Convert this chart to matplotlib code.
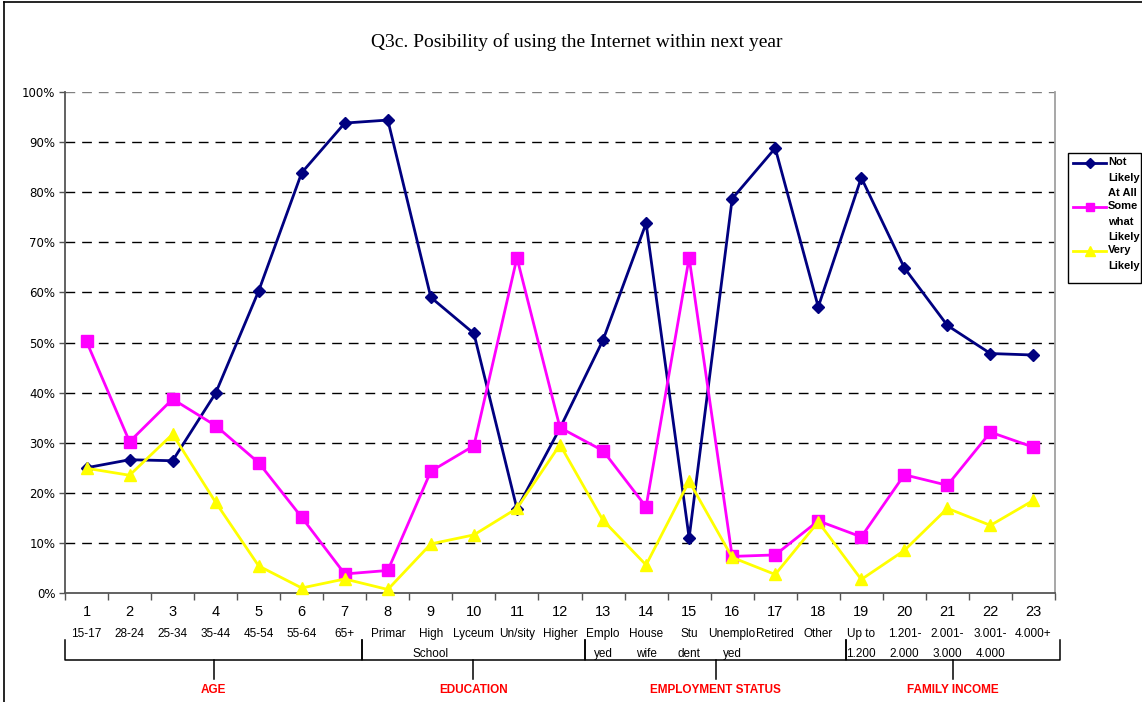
import matplotlib
matplotlib.use("Agg")
import matplotlib.pyplot as plt
from matplotlib.lines import Line2D
from matplotlib.patches import Rectangle
import matplotlib.transforms as mtransforms

W, H = 1142, 702

# ---------------- data ----------------
categories = list(range(1, 24))
cat_labels = ["15-17", "28-24", "25-34", "35-44", "45-54", "55-64", "65+",
              "Primar", "High\nSchool", "Lyceum", "Un/sity", "Higher",
              "Emplo\nyed", "House\nwife", "Stu\ndent", "Unemplo\nyed", "Retired", "Other",
              "Up to\n1.200", "1.201-\n2.000", "2.001-\n3.000", "3.001-\n4.000", "4.000+"]
not_likely = [25.0, 26.6, 26.4, 39.9, 60.3, 83.9, 93.8, 94.4, 59.0, 51.8, 16.8, 32.9,
              50.5, 73.8, 11.0, 78.7, 88.8, 57.1, 82.9, 64.9, 53.4, 47.8, 47.5]
somewhat_likely = [50.2, 30.2, 38.7, 33.4, 26.0, 15.1, 3.8, 4.5, 24.3, 29.4, 66.9, 33.0,
                   28.4, 17.2, 66.9, 7.3, 7.6, 14.4, 11.2, 23.6, 21.5, 32.1, 29.1]
very_likely = [24.9, 23.5, 31.7, 18.1, 5.4, 1.0, 2.8, 0.7, 9.8, 11.6, 16.9, 29.6,
               14.5, 5.6, 22.3, 7.1, 3.7, 14.2, 2.7, 8.5, 16.9, 13.5, 18.5]
series_names = ["Not\nLikely\nAt All", "Some\nwhat\nLikely", "Very\nLikely"]
group_names = ["AGE", "EDUCATION", "EMPLOYMENT STATUS", "FAMILY INCOME"]
group_bounds = [0.5, 7.4, 12.58, 18.65, 23.62]   # bracket edges (x in data units)
y_ticks = [0, 10, 20, 30, 40, 50, 60, 70, 80, 90, 100]
title = "Q3c. Posibility of using the Internet within next year"

colors = ["#000080", "#FF00FF", "#FFFF00"]
markers = ["D", "s", "^"]
msizes = [6.5, 8, 9]

def fx(px):
    return px / W

def fy(py):
    return 1 - py / H

fig = plt.figure(figsize=(W / 100, H / 100), dpi=100)
fig.patch.set_facecolor("white")

ax = fig.add_axes([fx(65), fy(593), fx(1055) - fx(65), fy(92) - fy(593)])
ax.set_xlim(0.5, 23.5)
ax.set_ylim(0, 100)

# gridlines
for v in y_ticks[1:]:
    ax.axhline(v, color="#808080" if v == 100 else "black", lw=1.0,
               dashes=(7, 5), zorder=1)

all_series = [not_likely, somewhat_likely, very_likely]
for vals, c, m, ms in zip(all_series, colors, markers, msizes):
    ax.plot(categories, vals, color=c, lw=2, marker=m, markersize=ms,
            markerfacecolor=c, markeredgecolor=c, zorder=3, clip_on=False)

# spines
ax.spines["top"].set_visible(False)
ax.spines["left"].set_color("#555555")
ax.spines["bottom"].set_color("#555555")
ax.spines["right"].set_color("#A0A0A0")
for s in ["left", "bottom", "right"]:
    ax.spines[s].set_linewidth(1.3)

ax.set_yticks(y_ticks)
ax.set_yticklabels([f"{v}%" for v in y_ticks], fontsize=8.5, family="DejaVu Sans")
ax.tick_params(axis="y", length=4, width=1, color="#555555", pad=3)

ax.set_xticks(categories)
ax.set_xticklabels([str(c) for c in categories], fontsize=10.5, family="Liberation Sans")
ax.tick_params(axis="x", which="major", length=0, pad=9)
ax.set_xticks([c + 0.5 for c in [0] + categories], minor=True)
ax.tick_params(axis="x", which="minor", length=5, width=1, color="#555555", direction="out")

# category labels
trans = mtransforms.blended_transform_factory(ax.transData, fig.transFigure)
for c, lab in zip(categories, cat_labels):
    ax.text(c, fy(628), lab, transform=trans, ha="center", va="top",
            fontsize=8.5, family="Liberation Sans", linespacing=1.9, clip_on=False)

# group brackets
for i, name in enumerate(group_names):
    x0, x1 = group_bounds[i], group_bounds[i + 1]
    xm = (x0 + x1) / 2
    kw = dict(transform=trans, color="black", lw=1.1, clip_on=False)
    ax.add_line(Line2D([x0, x0, x1, x1], [fy(640), fy(660), fy(660), fy(640)], **kw))
    ax.add_line(Line2D([xm, xm], [fy(660), fy(679)], **kw))
    ax.text(xm, fy(690), name, transform=trans, ha="center", va="center",
            fontsize=8.5, fontweight="bold", color="#FF0000",
            family="Liberation Sans", clip_on=False)

# title
fig.text(fx(577), fy(42), title, ha="center", va="center", fontsize=14,
         family="Liberation Serif")

# legend (manual, handle aligned to first line of each label)
fig.patches.append(Rectangle((fx(1068), fy(283)), fx(1141) - fx(1068), fy(153) - fy(283),
                             transform=fig.transFigure, fill=False, edgecolor="black",
                             lw=1, figure=fig))
leg_y = [163, 207, 251]
for name, c, m, ms, yy in zip(series_names, colors, markers, msizes, leg_y):
    fig.add_artist(Line2D([fx(1073), fx(1106)], [fy(yy), fy(yy)], color=c, lw=2,
                          transform=fig.transFigure))
    fig.add_artist(Line2D([fx(1090)], [fy(yy)], color=c, marker=m, markersize=ms * 0.8,
                          markerfacecolor=c, markeredgecolor=c, transform=fig.transFigure))
    fig.text(fx(1108), fy(yy - 6), name, ha="left", va="top", fontsize=8,
             fontweight="bold", family="Liberation Sans", linespacing=1.7,
             transform=fig.transFigure)

# figure border (left and top)
fig.add_artist(Line2D([fx(3.5), fx(3.5)], [0, fy(1.5)], color="black", lw=1.2,
                      transform=fig.transFigure))
fig.add_artist(Line2D([fx(3.5), 1], [fy(1.5), fy(1.5)], color="black", lw=1.2,
                      transform=fig.transFigure))

fig.savefig("out.png", dpi=100)
